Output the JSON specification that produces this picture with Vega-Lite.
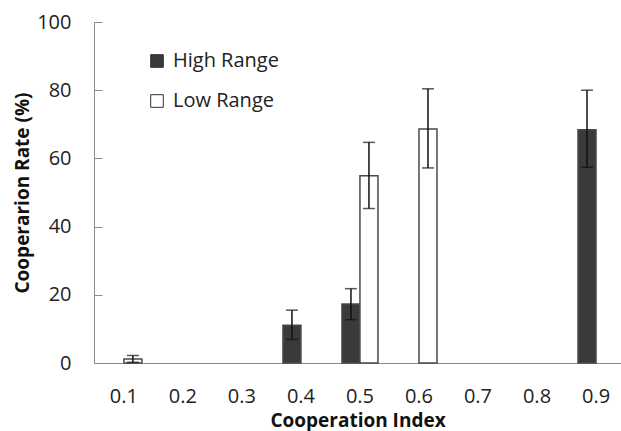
{
  "$schema": "https://vega.github.io/schema/vega-lite/v6.json",
  "width": 527,
  "height": 341,
  "autosize": "none",
  "padding": {"left": 94, "top": 22, "right": 0, "bottom": 68},
  "config": {
    "view": {"stroke": null},
    "font": "Open Sans",
    "axis": {"grid": false, "domainColor": "#8a8a8a", "tickColor": "#8a8a8a", "labelColor": "#222", "labelFont": "Open Sans", "titleFont": "Open Sans", "labelFontSize": 20, "titleFontSize": 19, "titleFontWeight": "bold", "titleColor": "#111"}
  },
  "data": {
    "values": [
      {"idx": "0.1", "range": "Low Range", "rate": 1.2, "lo": 0.2, "hi": 2.2},
      {"idx": "0.4", "range": "High Range", "rate": 11.1, "lo": 6.9, "hi": 15.5},
      {"idx": "0.5", "range": "High Range", "rate": 17.3, "lo": 12.7, "hi": 21.8},
      {"idx": "0.5", "range": "Low Range", "rate": 54.9, "lo": 45.3, "hi": 64.7},
      {"idx": "0.6", "range": "Low Range", "rate": 68.6, "lo": 57.2, "hi": 80.4},
      {"idx": "0.9", "range": "High Range", "rate": 68.4, "lo": 57.4, "hi": 80.0}
    ]
  },
  "encoding": {
    "x": {
      "field": "idx", "type": "nominal",
      "scale": {"domain": ["0.1","0.2","0.3","0.4","0.5","0.6","0.7","0.8","0.9"], "paddingInner": 0.39, "paddingOuter": 0.16, "align": 0.63},
      "axis": {"title": "Cooperation Index", "labelAngle": 0, "ticks": false, "labelPadding": 23, "titlePadding": 5}
    },
    "xOffset": {"field": "range", "type": "nominal", "scale": {"domain": ["High Range", "Low Range"], "paddingInner": 0}}
  },
  "layer": [
    {
      "mark": {"type": "bar", "stroke": "#4a4a4a", "strokeWidth": 1.5},
      "encoding": {
        "y": {"field": "rate", "type": "quantitative", "scale": {"domain": [0, 100]},
          "axis": {"title": "Cooperarion Rate (%)", "values": [0,20,40,60,80,100], "tickSize": -8, "labelPadding": 31, "titlePadding": 4}},
        "fill": {"field": "range", "type": "nominal",
          "scale": {"domain": ["High Range", "Low Range"], "range": ["#3a3a3a", "#ffffff"]},
          "legend": {"title": null, "orient": "none", "legendX": 53, "legendY": 29, "symbolType": "square", "symbolSize": 160, "symbolStrokeColor": "#333", "symbolStrokeWidth": 1, "labelFontSize": 20, "labelFont": "Open Sans", "labelColor": "#222", "rowPadding": 20, "labelOffset": 6}}
      }
    },
    {
      "mark": {"type": "rule", "color": "#111", "strokeWidth": 1.5},
      "encoding": {
        "y": {"field": "lo", "type": "quantitative"},
        "y2": {"field": "hi"}
      }
    },
    {
      "mark": {"type": "tick", "color": "#111", "thickness": 1.5, "size": 12},
      "encoding": {"y": {"field": "lo", "type": "quantitative"}}
    },
    {
      "mark": {"type": "tick", "color": "#111", "thickness": 1.5, "size": 12},
      "encoding": {"y": {"field": "hi", "type": "quantitative"}}
    }
  ]
}
